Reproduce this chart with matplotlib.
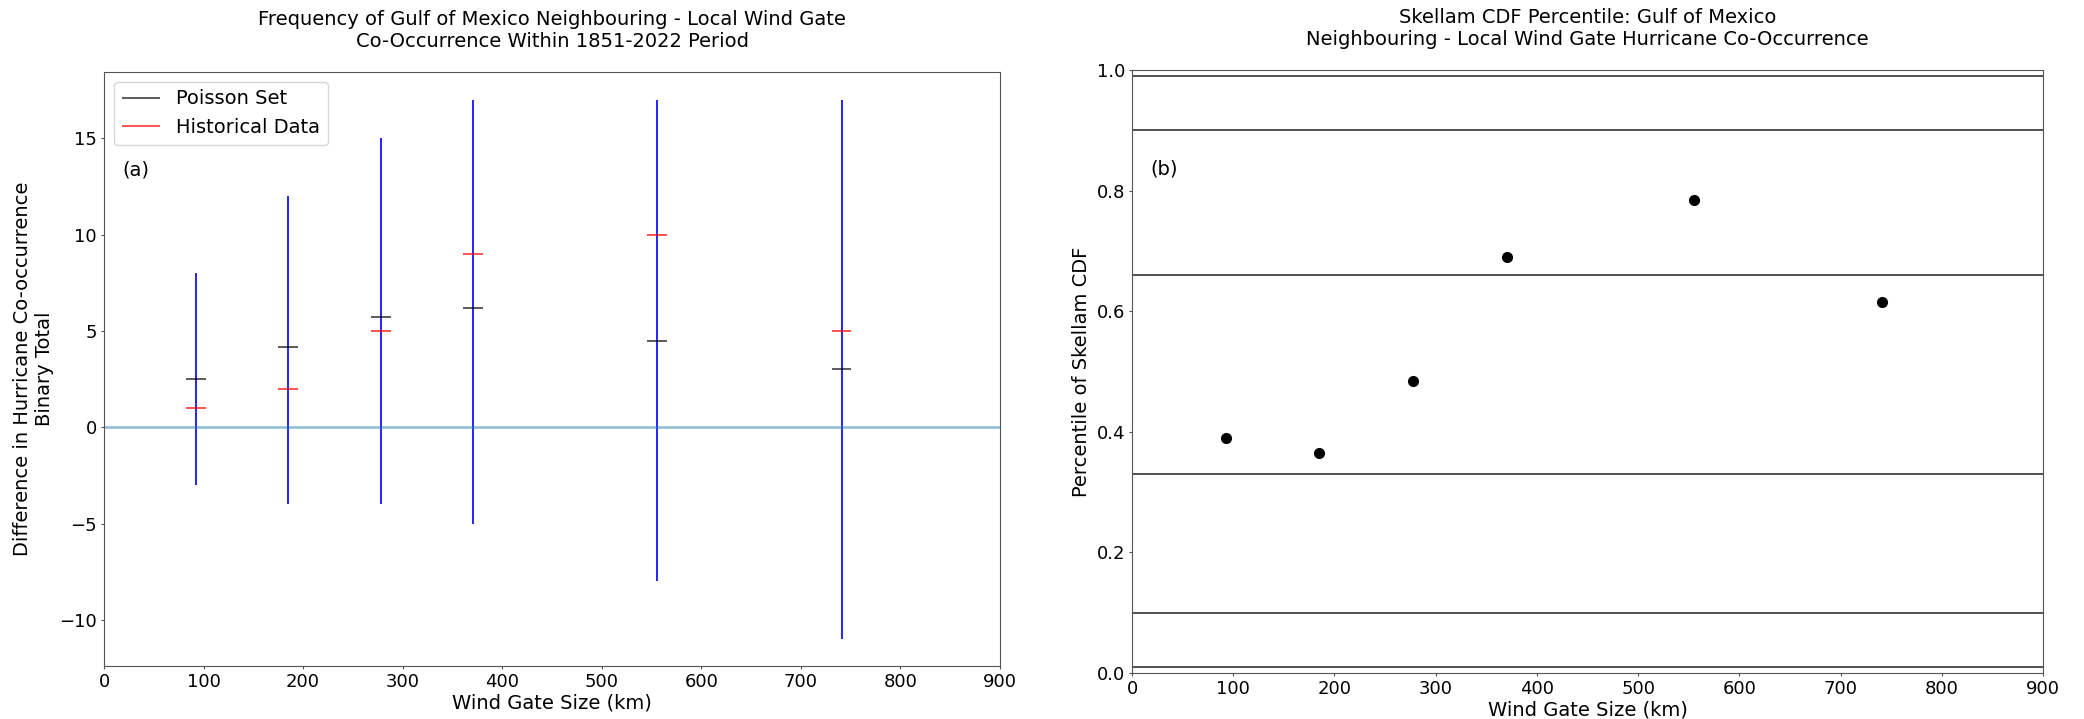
import matplotlib
matplotlib.use("Agg")
import matplotlib.pyplot as plt
import numpy as np

# Data
gate_km = [92.6, 185.2, 277.8, 370.4, 555.6, 740.8]
range_min = [-3, -4, -4, -5, -8, -11]
range_max = [8, 12, 15, 17, 17, 17]
poisson_set = [2.5, 4.15, 5.75, 6.2, 4.5, 3.0]
historical = [1, 2, 5, 9, 10, 5]
skellam_pct = [0.39, 0.365, 0.485, 0.69, 0.785, 0.615]
ref_levels = [0.01, 0.1, 0.33, 0.66, 0.9, 0.99]

W, H = 2084, 719
fig = plt.figure(figsize=(W / 100, H / 100), dpi=100)

def box(l, t, r, b):
    return [l / W, (H - b) / H, (r - l) / W, (b - t) / H]

ax1 = fig.add_axes(box(104, 72, 1000, 666))
ax2 = fig.add_axes(box(1132, 70, 2043, 673))

fs = 14
tfs = 13
half = 10  # half width of tick marks in km
x = np.array(gate_km)

ax1.vlines(x, range_min, range_max, color="blue", linewidth=1.2)
ax1.hlines(poisson_set, x - half, x + half, color="black", linewidth=1.2,
           alpha=0.75, label="Poisson Set")
ax1.hlines(historical, x - half, x + half, color="red", linewidth=1.2,
           alpha=0.8, label="Historical Data")
ax1.axhline(0, color="C0", linewidth=1.8, alpha=0.5)
ax1.set_xlim(0, 900)
ax1.set_ylim(-12.4, 18.45)
ax1.set_yticks([-10, -5, 0, 5, 10, 15])
ax1.set_xticks(range(0, 901, 100))
ax1.set_xlabel("Wind Gate Size (km)", fontsize=fs, labelpad=2)
ax1.set_ylabel("Difference in Hurricane Co-occurrence\nBinary Total", fontsize=fs)
ax1.set_title("Frequency of Gulf of Mexico Neighbouring - Local Wind Gate\n"
              "Co-Occurrence Within 1851-2022 Period", fontsize=14, pad=18)
ax1.legend(loc="upper left", fontsize=fs)
ax1.text(0.02, 0.835, "(a)", transform=ax1.transAxes, fontsize=fs, va="center")

for lv in ref_levels:
    ax2.axhline(lv, color="black", linewidth=1.2, alpha=0.8)
ax2.plot(gate_km, skellam_pct, "o", color="black", markersize=7)
ax2.set_xlim(0, 900)
ax2.set_ylim(0, 1.0)
ax2.set_xticks(range(0, 901, 100))
ax2.set_yticks([0.0, 0.2, 0.4, 0.6, 0.8, 1.0])
ax2.set_xlabel("Wind Gate Size (km)", fontsize=fs, labelpad=2)
ax2.set_ylabel("Percentile of Skellam CDF", fontsize=fs)
ax2.set_title("Skellam CDF Percentile: Gulf of Mexico\n"
              "Neighbouring - Local Wind Gate Hurricane Co-Occurrence",
              fontsize=14, pad=18)
ax2.text(0.02, 0.836, "(b)", transform=ax2.transAxes, fontsize=fs, va="center")

for ax in (ax1, ax2):
    ax.tick_params(labelsize=tfs, length=2.5, pad=2.5, color="#555555")
    for s in ax.spines.values():
        s.set_color("#555555")

fig.savefig("out.png", dpi=100)
